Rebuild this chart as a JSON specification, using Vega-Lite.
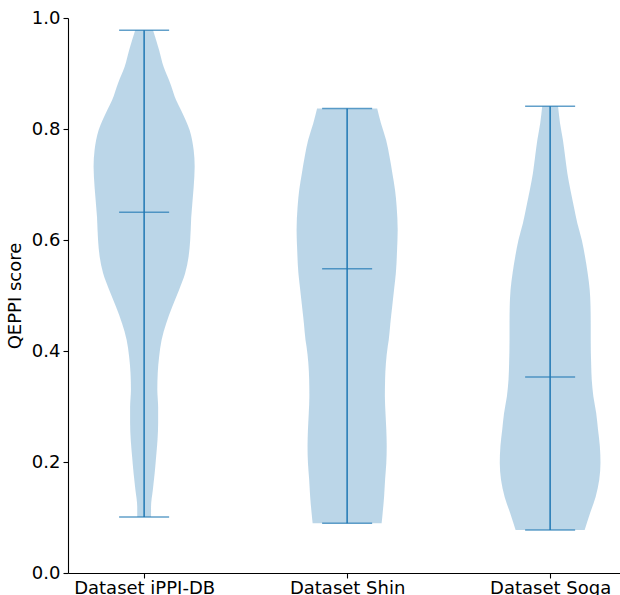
{
  "$schema": "https://vega.github.io/schema/vega-lite/v6.json",
  "width": 552,
  "height": 555,
  "autosize": {"type": "none"},
  "padding": {"left": 68, "top": 18, "right": 0, "bottom": 22},
  "background": "white",
  "config": {
    "view": {"stroke": null},
    "font": "DejaVu Sans",
    "axis": {
      "labelFont": "DejaVu Sans",
      "titleFont": "DejaVu Sans",
      "labelFontSize": 18,
      "titleFontSize": 18,
      "labelColor": "black",
      "titleColor": "black",
      "domainColor": "black",
      "tickColor": "black",
      "domainWidth": 1.1,
      "tickWidth": 1.1,
      "tickSize": 5,
      "grid": false,
      "titleFontWeight": "normal"
    }
  },
  "datasets": {
    "violins": [
      {"dataset": "Dataset iPPI-DB", "score": 0.978, "lo": 0.956, "hi": 1.044},
      {"dataset": "Dataset iPPI-DB", "score": 0.942, "lo": 0.926, "hi": 1.074},
      {"dataset": "Dataset iPPI-DB", "score": 0.912, "lo": 0.904, "hi": 1.096},
      {"dataset": "Dataset iPPI-DB", "score": 0.883, "lo": 0.872, "hi": 1.128},
      {"dataset": "Dataset iPPI-DB", "score": 0.852, "lo": 0.842, "hi": 1.158},
      {"dataset": "Dataset iPPI-DB", "score": 0.834, "lo": 0.818, "hi": 1.182},
      {"dataset": "Dataset iPPI-DB", "score": 0.798, "lo": 0.776, "hi": 1.224},
      {"dataset": "Dataset iPPI-DB", "score": 0.762, "lo": 0.756, "hi": 1.244},
      {"dataset": "Dataset iPPI-DB", "score": 0.732, "lo": 0.751, "hi": 1.249},
      {"dataset": "Dataset iPPI-DB", "score": 0.695, "lo": 0.756, "hi": 1.244},
      {"dataset": "Dataset iPPI-DB", "score": 0.641, "lo": 0.768, "hi": 1.232},
      {"dataset": "Dataset iPPI-DB", "score": 0.600, "lo": 0.773, "hi": 1.227},
      {"dataset": "Dataset iPPI-DB", "score": 0.570, "lo": 0.781, "hi": 1.219},
      {"dataset": "Dataset iPPI-DB", "score": 0.540, "lo": 0.798, "hi": 1.202},
      {"dataset": "Dataset iPPI-DB", "score": 0.510, "lo": 0.828, "hi": 1.172},
      {"dataset": "Dataset iPPI-DB", "score": 0.480, "lo": 0.861, "hi": 1.139},
      {"dataset": "Dataset iPPI-DB", "score": 0.450, "lo": 0.891, "hi": 1.109},
      {"dataset": "Dataset iPPI-DB", "score": 0.420, "lo": 0.914, "hi": 1.086},
      {"dataset": "Dataset iPPI-DB", "score": 0.390, "lo": 0.926, "hi": 1.074},
      {"dataset": "Dataset iPPI-DB", "score": 0.360, "lo": 0.933, "hi": 1.067},
      {"dataset": "Dataset iPPI-DB", "score": 0.330, "lo": 0.935, "hi": 1.065},
      {"dataset": "Dataset iPPI-DB", "score": 0.299, "lo": 0.931, "hi": 1.069},
      {"dataset": "Dataset iPPI-DB", "score": 0.270, "lo": 0.931, "hi": 1.069},
      {"dataset": "Dataset iPPI-DB", "score": 0.240, "lo": 0.934, "hi": 1.066},
      {"dataset": "Dataset iPPI-DB", "score": 0.209, "lo": 0.941, "hi": 1.059},
      {"dataset": "Dataset iPPI-DB", "score": 0.180, "lo": 0.948, "hi": 1.052},
      {"dataset": "Dataset iPPI-DB", "score": 0.150, "lo": 0.957, "hi": 1.043},
      {"dataset": "Dataset iPPI-DB", "score": 0.119, "lo": 0.966, "hi": 1.034},
      {"dataset": "Dataset iPPI-DB", "score": 0.101, "lo": 0.966, "hi": 1.034},

      {"dataset": "Dataset Shin", "score": 0.837, "lo": 1.852, "hi": 2.148},
      {"dataset": "Dataset Shin", "score": 0.810, "lo": 1.833, "hi": 2.167},
      {"dataset": "Dataset Shin", "score": 0.780, "lo": 1.808, "hi": 2.192},
      {"dataset": "Dataset Shin", "score": 0.750, "lo": 1.791, "hi": 2.209},
      {"dataset": "Dataset Shin", "score": 0.720, "lo": 1.777, "hi": 2.223},
      {"dataset": "Dataset Shin", "score": 0.690, "lo": 1.764, "hi": 2.236},
      {"dataset": "Dataset Shin", "score": 0.660, "lo": 1.756, "hi": 2.244},
      {"dataset": "Dataset Shin", "score": 0.618, "lo": 1.751, "hi": 2.249},
      {"dataset": "Dataset Shin", "score": 0.582, "lo": 1.754, "hi": 2.246},
      {"dataset": "Dataset Shin", "score": 0.540, "lo": 1.760, "hi": 2.240},
      {"dataset": "Dataset Shin", "score": 0.510, "lo": 1.769, "hi": 2.231},
      {"dataset": "Dataset Shin", "score": 0.480, "lo": 1.778, "hi": 2.222},
      {"dataset": "Dataset Shin", "score": 0.450, "lo": 1.787, "hi": 2.213},
      {"dataset": "Dataset Shin", "score": 0.420, "lo": 1.795, "hi": 2.205},
      {"dataset": "Dataset Shin", "score": 0.408, "lo": 1.800, "hi": 2.200},
      {"dataset": "Dataset Shin", "score": 0.378, "lo": 1.809, "hi": 2.191},
      {"dataset": "Dataset Shin", "score": 0.348, "lo": 1.813, "hi": 2.187},
      {"dataset": "Dataset Shin", "score": 0.318, "lo": 1.814, "hi": 2.186},
      {"dataset": "Dataset Shin", "score": 0.288, "lo": 1.811, "hi": 2.189},
      {"dataset": "Dataset Shin", "score": 0.258, "lo": 1.807, "hi": 2.193},
      {"dataset": "Dataset Shin", "score": 0.228, "lo": 1.805, "hi": 2.195},
      {"dataset": "Dataset Shin", "score": 0.198, "lo": 1.807, "hi": 2.193},
      {"dataset": "Dataset Shin", "score": 0.168, "lo": 1.813, "hi": 2.187},
      {"dataset": "Dataset Shin", "score": 0.137, "lo": 1.818, "hi": 2.182},
      {"dataset": "Dataset Shin", "score": 0.108, "lo": 1.825, "hi": 2.175},
      {"dataset": "Dataset Shin", "score": 0.0895, "lo": 1.830, "hi": 2.170},

      {"dataset": "Dataset Soga", "score": 0.841, "lo": 2.961, "hi": 3.039},
      {"dataset": "Dataset Soga", "score": 0.810, "lo": 2.951, "hi": 3.049},
      {"dataset": "Dataset Soga", "score": 0.780, "lo": 2.937, "hi": 3.063},
      {"dataset": "Dataset Soga", "score": 0.750, "lo": 2.926, "hi": 3.074},
      {"dataset": "Dataset Soga", "score": 0.720, "lo": 2.915, "hi": 3.085},
      {"dataset": "Dataset Soga", "score": 0.690, "lo": 2.900, "hi": 3.100},
      {"dataset": "Dataset Soga", "score": 0.660, "lo": 2.883, "hi": 3.117},
      {"dataset": "Dataset Soga", "score": 0.630, "lo": 2.866, "hi": 3.134},
      {"dataset": "Dataset Soga", "score": 0.600, "lo": 2.844, "hi": 3.156},
      {"dataset": "Dataset Soga", "score": 0.570, "lo": 2.828, "hi": 3.172},
      {"dataset": "Dataset Soga", "score": 0.540, "lo": 2.815, "hi": 3.185},
      {"dataset": "Dataset Soga", "score": 0.510, "lo": 2.805, "hi": 3.195},
      {"dataset": "Dataset Soga", "score": 0.480, "lo": 2.801, "hi": 3.199},
      {"dataset": "Dataset Soga", "score": 0.450, "lo": 2.800, "hi": 3.200},
      {"dataset": "Dataset Soga", "score": 0.420, "lo": 2.800, "hi": 3.200},
      {"dataset": "Dataset Soga", "score": 0.378, "lo": 2.798, "hi": 3.202},
      {"dataset": "Dataset Soga", "score": 0.348, "lo": 2.795, "hi": 3.205},
      {"dataset": "Dataset Soga", "score": 0.318, "lo": 2.787, "hi": 3.213},
      {"dataset": "Dataset Soga", "score": 0.288, "lo": 2.773, "hi": 3.227},
      {"dataset": "Dataset Soga", "score": 0.258, "lo": 2.764, "hi": 3.236},
      {"dataset": "Dataset Soga", "score": 0.228, "lo": 2.755, "hi": 3.245},
      {"dataset": "Dataset Soga", "score": 0.198, "lo": 2.752, "hi": 3.248},
      {"dataset": "Dataset Soga", "score": 0.168, "lo": 2.758, "hi": 3.242},
      {"dataset": "Dataset Soga", "score": 0.137, "lo": 2.776, "hi": 3.224},
      {"dataset": "Dataset Soga", "score": 0.108, "lo": 2.803, "hi": 3.197},
      {"dataset": "Dataset Soga", "score": 0.0775, "lo": 2.830, "hi": 3.170}
    ],
    "stats": [
      {"dataset": "Dataset iPPI-DB", "pos": 1, "min": 0.101, "median": 0.650, "max": 0.978},
      {"dataset": "Dataset Shin", "pos": 2, "min": 0.0895, "median": 0.548, "max": 0.837},
      {"dataset": "Dataset Soga", "pos": 3, "min": 0.0775, "median": 0.353, "max": 0.841}
    ]
  },
  "layer": [
    {
      "data": {"name": "violins"},
      "mark": {"type": "area", "orient": "horizontal", "interpolate": "monotone", "fill": "#1f77b4", "fillOpacity": 0.3, "stroke": null},
      "encoding": {
        "y": {"field": "score", "type": "quantitative", "scale": {"domain": [0, 1], "nice": false, "zero": false},
              "axis": {"values": [0, 0.2, 0.4, 0.6, 0.8, 1.0], "format": ".1f", "title": "QEPPI score", "labelPadding": 3, "titlePadding": 7}},
        "x": {"field": "lo", "type": "quantitative", "scale": {"domain": [0.625, 3.3442], "nice": false, "zero": false},
              "axis": {"values": [1, 2, 3], "title": null, "labelPadding": 1,
                       "labelExpr": "datum.value == 1 ? 'Dataset iPPI-DB' : datum.value == 2 ? 'Dataset Shin' : 'Dataset Soga'"}},
        "x2": {"field": "hi"},
        "detail": {"field": "dataset", "type": "nominal"}
      }
    },
    {
      "data": {"name": "stats"},
      "mark": {"type": "rule", "color": "#1f77b4", "strokeWidth": 1.5},
      "encoding": {
        "x": {"field": "pos", "type": "quantitative"},
        "y": {"field": "min", "type": "quantitative"},
        "y2": {"field": "max"}
      }
    },
    {
      "data": {"name": "stats"},
      "transform": [{"fold": ["min", "median", "max"], "as": ["stat", "val"]}],
      "mark": {"type": "tick", "orient": "horizontal", "color": "#1f77b4", "size": 50, "thickness": 1.5},
      "encoding": {
        "x": {"field": "pos", "type": "quantitative"},
        "y": {"field": "val", "type": "quantitative"}
      }
    },
    {
      "mark": {"type": "rule", "color": "black", "strokeWidth": 1.1},
      "encoding": {"y": {"datum": 1}}
    }
  ]
}
